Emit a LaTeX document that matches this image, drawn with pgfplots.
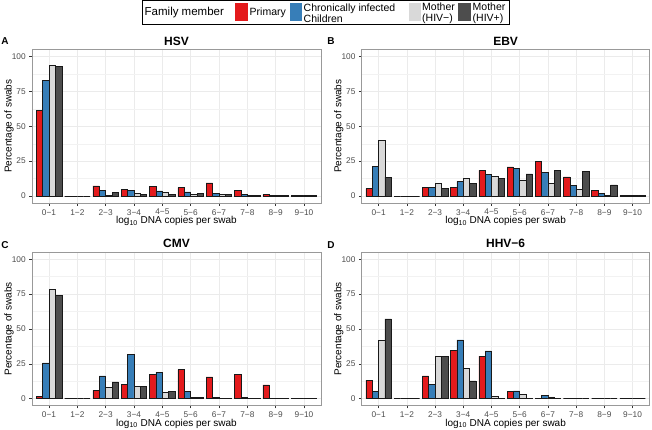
\documentclass[border=0pt]{standalone}
\usepackage{pgfplots}
\pgfplotsset{compat=1.18}
\usepackage{pgfplotstable}
\usepackage{fontspec}
\setmainfont{Liberation Sans}

\definecolor{cprim}{HTML}{E41A1C}
\definecolor{cchild}{HTML}{377EB8}
\definecolor{cneg}{HTML}{D9D9D9}
\definecolor{cpos}{HTML}{4D4D4D}

% columns: bin index, Primary, Chronically infected children, Mother HIV-, Mother HIV+
\pgfplotstableread{
x prim child neg pos
0 61.3 82.8 93.8 93.0
1 0 0 0 0
2 7.2 4.3 0.7 2.6
3 5.0 4.3 2.1 1.4
4 6.7 3.6 2.4 1.2
5 6.0 2.9 1.4 1.7
6 9.5 2.1 1.0 1.2
7 4.3 1.0 0.7 0.7
8 1.0 0.5 0.2 0.2
9 0.2 0.2 0.2 0.2
}\hsv
\pgfplotstableread{
x prim child neg pos
0 5.3 21.0 39.9 13.6
1 0 0 0 0
2 6.0 6.0 8.8 5.7
3 6.4 10.5 12.4 8.8
4 18.4 15.5 14.3 12.4
5 20.8 20.0 11.5 15.8
6 24.8 17.2 9.3 18.4
7 13.8 7.6 4.8 17.7
8 4.1 2.1 0.5 7.9
9 0.5 0.7 0.2 0.5
}\ebv
\pgfplotstableread{
x prim child neg pos
0 1.7 25.6 78.2 74.2
1 0 0 0 0
2 6.0 16.3 7.9 12.0
3 10.5 31.8 8.9 8.9
4 17.7 18.9 4.5 5.0
5 20.8 5.0 0.7 0.7
6 15.6 1.0 0.2 0.2
7 17.2 0.7 0.2 0.2
8 10.0 0.5 0.2 0.2
9 0.2 0.2 0.2 0.2
}\cmv
\pgfplotstableread{
x prim child neg pos
0 13.4 5.5 41.9 57.2
1 0 0 0 0
2 16.3 10.3 30.6 30.6
3 34.7 42.1 21.8 12.7
4 30.6 34.2 1.9 0.2
5 5.5 5.7 3.3 0.2
6 0.2 2.2 1.4 0.2
7 0 0 0 0
8 0 0 0 0
9 0 0 0 0
}\hhv

\pgfplotsset{
  panel/.style={
    scale only axis, height=153.5pt,
    xmin=-0.6, xmax=9.6, ymin=-5, ymax=105,
    xtick={0,...,9},
    xticklabels={0−1,1−2,2−3,3−4,4−5,5−6,6−7,7−8,8−9,9−10},
    ytick={0,25,50,75,100}, minor ytick={12.5,37.5,62.5,87.5},
    grid=both,
    major grid style={color=black!8, line width=0.5pt},
    minor grid style={color=black!5, line width=0.3pt},
    axis line style={black!40, line width=0.6pt},
    tick style={black!80, line width=0.5pt},
    major tick length=2.75pt, minor tick length=0pt,
    tick align=outside, tick pos=left,
    /pgf/number format/assume math mode=true,
    ticklabel style={font=\fontsize{8.3}{9}\selectfont, text=black!70},
    xlabel={log\textsubscript{10} DNA copies per swab},
    ylabel={Percentage of swabs},
    label style={font=\fontsize{10.3}{12}\selectfont},
    every axis x label/.style={at={(axis description cs:0.5,0)}, anchor=center, yshift=-18pt},
    every axis y label/.style={at={(axis description cs:0,0.5)}, anchor=center, rotate=90, yshift=23pt},
    every axis title/.style={at={(axis description cs:0.5,1)}, anchor=center, yshift=8.5pt},
    title style={font=\bfseries\fontsize{12}{14}\selectfont},
    ybar, bar width=0.225,
    every axis plot/.append style={draw=black!90, line width=0.5pt},
  },
}

\newcommand{\bars}[1]{%
  \addplot[fill=cprim, bar shift=-0.3375] table[x=x, y=prim] {#1};
  \addplot[fill=cchild, bar shift=-0.1125] table[x=x, y=child] {#1};
  \addplot[fill=cneg, bar shift=0.1125] table[x=x, y=neg] {#1};
  \addplot[fill=cpos, bar shift=0.3375] table[x=x, y=pos] {#1};
}

\begin{document}
\begin{tikzpicture}
\path[use as bounding box] (0pt,0pt) rectangle (652pt,430pt);

\begin{axis}[panel, width=289pt, at={(32pt,227pt)}, anchor=south west, title={HSV}]
\bars{\hsv}
\end{axis}
\begin{axis}[panel, width=287.8pt, at={(361.7pt,227pt)}, anchor=south west, title={EBV}]
\bars{\ebv}
\end{axis}
\begin{axis}[panel, width=289pt, at={(32pt,24.3pt)}, anchor=south west, title={CMV}]
\bars{\cmv}
\end{axis}
\begin{axis}[panel, width=287.8pt, at={(361.7pt,24.3pt)}, anchor=south west, title={HHV−6}]
\bars{\hhv}
\end{axis}

% panel letters
\begin{scope}[every node/.style={font=\bfseries\fontsize{10}{12}\selectfont}]
\node at (5pt,389pt) {A};
\node at (331pt,389pt) {B};
\node at (5pt,185pt) {C};
\node at (331pt,185pt) {D};
\end{scope}

% legend
\draw[black, line width=1pt] (142pt,429pt) rectangle (509pt,405.5pt);
\begin{scope}[every node/.style={inner sep=0pt, anchor=west, align=left,
    font=\fontsize{10.5}{11}\selectfont}]
\node[font=\fontsize{11.5}{12}\selectfont] at (144.5pt,417pt) {Family member};
\fill[cprim] (235pt,426.5pt) rectangle (247.5pt,409pt);
\node at (249.5pt,417pt) {Primary};
\fill[cchild] (289.5pt,426.5pt) rectangle (302pt,409pt);
\node at (303.5pt,417pt) {Chronically infected\\Children};
\fill[cneg] (409pt,426.5pt) rectangle (421pt,409pt);
\node at (422pt,417pt) {Mother\\(HIV−)};
\fill[cpos] (457.5pt,426.5pt) rectangle (471pt,409pt);
\node at (472.5pt,417pt) {Mother\\(HIV+)};
\end{scope}
\end{tikzpicture}
\end{document}
